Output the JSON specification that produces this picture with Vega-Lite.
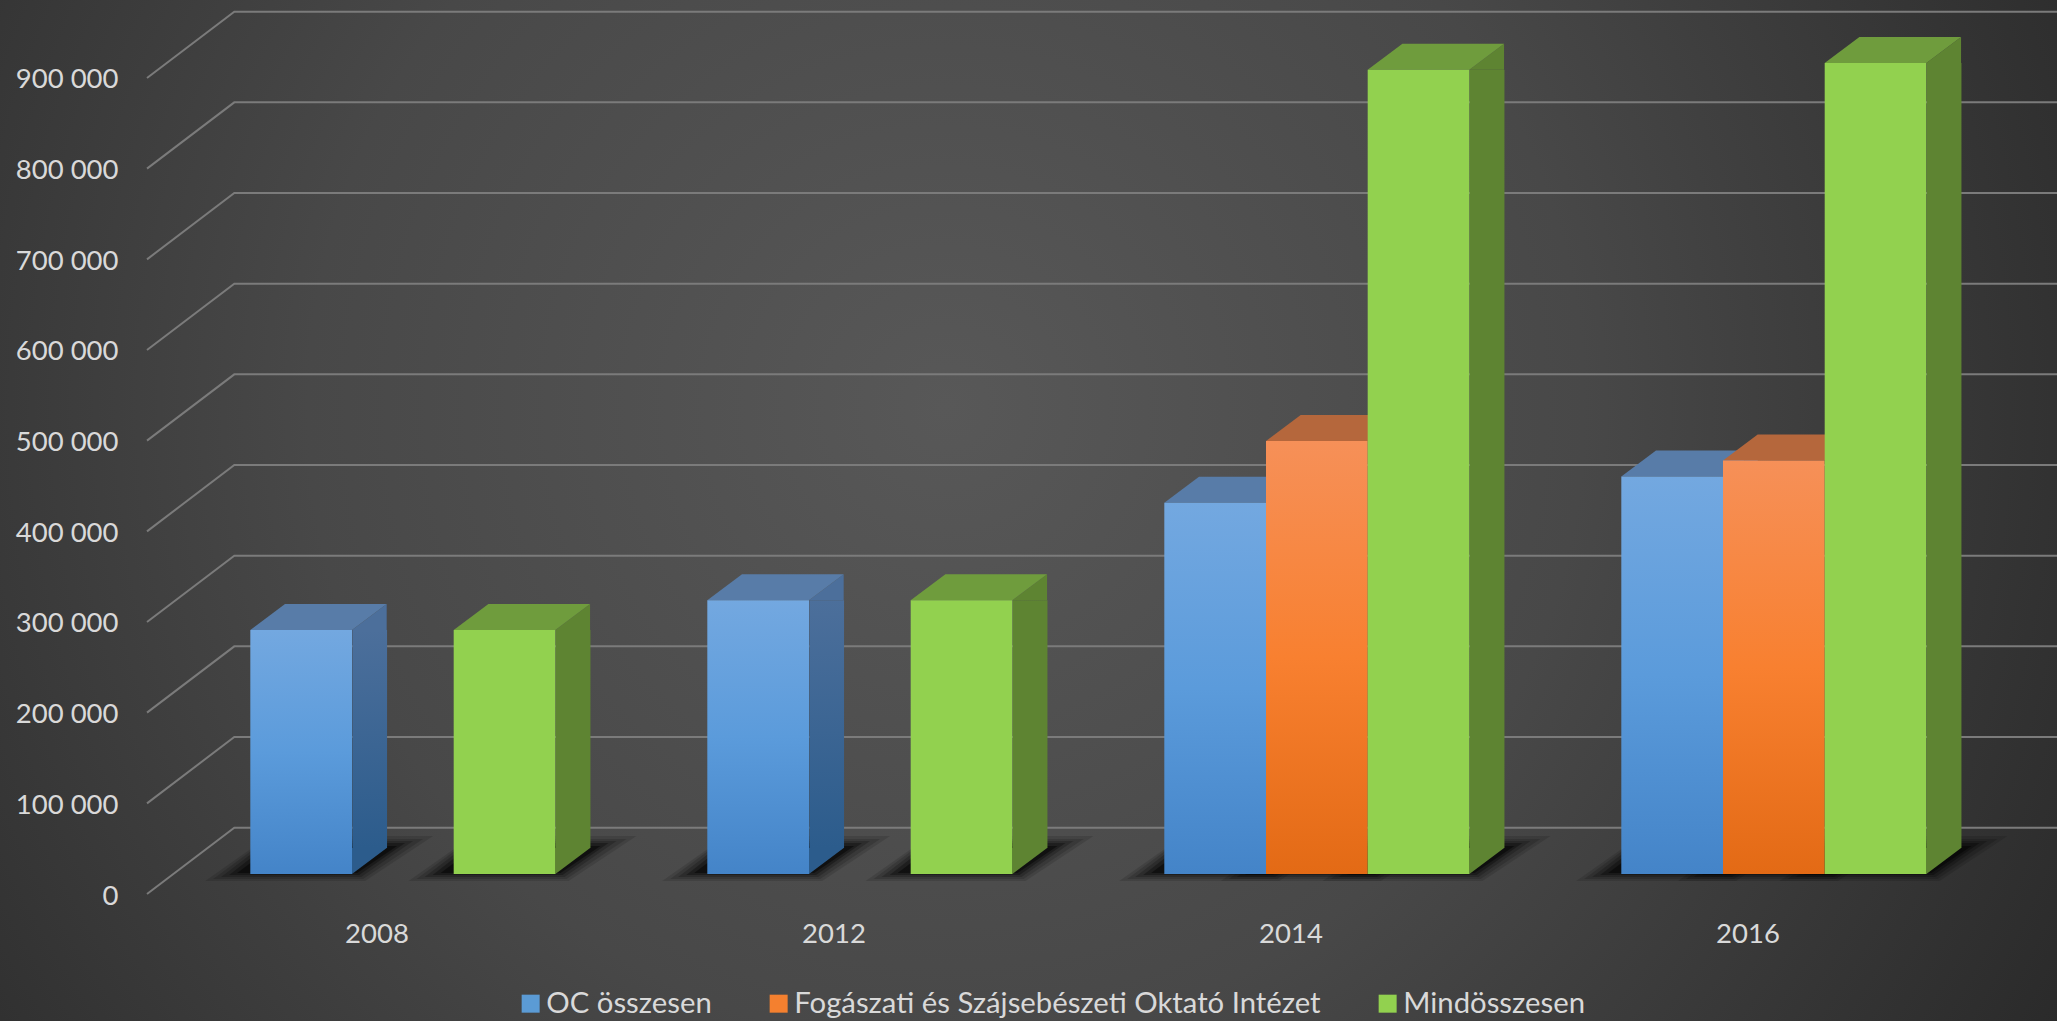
{
"$schema":"https://vega.github.io/schema/vega-lite/v6.json",
"width":1828,"height":894,
"autosize":{"type":"none"},
"padding":{"left":147,"top":0,"right":82,"bottom":127},
"background":"#333333",
"config":{"view":{"stroke":null},"font":"Lato","axis":{"title":null}},
"data":{"values":[
{"year":"2008","series":"OC összesen","value":269000},
{"year":"2008","series":"Mindösszesen","value":269000},
{"year":"2012","series":"OC összesen","value":302000},
{"year":"2012","series":"Mindösszesen","value":302000},
{"year":"2014","series":"OC összesen","value":409500},
{"year":"2014","series":"Fogászati és Szájsebészeti Oktató Intézet","value":477500},
{"year":"2014","series":"Mindösszesen","value":887000},
{"year":"2016","series":"OC összesen","value":438500},
{"year":"2016","series":"Fogászati és Szájsebészeti Oktató Intézet","value":456000},
{"year":"2016","series":"Mindösszesen","value":894500}
]},
"layer":[
{"mark":{"type":"point","filled":true,"size":1,"opacity":1},
 "encoding":{
  "x":{"field":"year","type":"nominal","title":null,"scale":{"type":"band","domain":["2008","2012","2014","2016"],"paddingInner":0,"paddingOuter":0},
   "axis":{"zindex":1,"domain":false,"ticks":false,"labelAngle":0,"labelFontSize":27.5,"labelColor":"#d9d9d9","labelPadding":26,"labelOffset":1.5,"labelFont":"Lato","title":null}},
  "xOffset":{"field":"series","type":"nominal","scale":{"type":"band","domain":["OC összesen","Fogászati és Szájsebészeti Oktató Intézet","Mindösszesen"],"paddingInner":0,"paddingOuter":0.747,"align":0.68}},
  "y":{"field":"value","type":"quantitative","title":null,"stack":null,"scale":{"domain":[0,986029],"nice":false,"zero":false},
   "axis":{"zindex":1,"domain":false,"ticks":false,"grid":false,"values":[0,100000,200000,300000,400000,500000,600000,700000,800000,900000],"labelExpr":"replace(format(datum.value,','),',',' ')","labelFontSize":27.5,"labelColor":"#d9d9d9","labelPadding":29,"labelOffset":2,"labelFont":"Lato","title":null}},
  "color":{"field":"series","type":"nominal","title":null,
   "scale":{"domain":["OC összesen","Fogászati és Szájsebészeti Oktató Intézet","Mindösszesen"],"range":["#5b9bd5","#f4802f","#92d14f"]},
   "legend":{"orient":"none","legendX":369,"legendY":989,"direction":"horizontal","columns":3,"symbolType":"square","symbolSize":324,"symbolStrokeWidth":0,"symbolOpacity":1,"labelFontSize":29.3,"labelColor":"#d9d9d9","labelFont":"Lato","columnPadding":52,"labelOffset":1,"labelLimit":800}}
 }},
{"data":{"values":[{"k":1}]},
 "mark":{"type":"point","filled":true,"size":4,"opacity":1,"shape":"M-147 -894 L1910 -894 L1910 127 L-147 127 Z",
  "fill":{"gradient":"radial","x1":0.46,"y1":0.45,"r1":0,"x2":0.46,"y2":0.45,"r2":0.62,"stops":[{"offset":0,"color":"#585858"},{"offset":0.5,"color":"#484848"},{"offset":1,"color":"#2a2a2a"}]}},
 "encoding":{"x":{"datum":"2008","type":"nominal","bandPosition":0,"title":null},"y":{"datum":0,"type":"quantitative","title":null}}},
{"data":{"values":[{"tick":0},{"tick":100000},{"tick":200000},{"tick":300000},{"tick":400000},{"tick":500000},{"tick":600000},{"tick":700000},{"tick":800000},{"tick":900000}]},
 "mark":{"type":"point","filled":false,"size":4,"opacity":1,"strokeWidth":2,"stroke":"#7b7b7b","shape":"M0 0 L87.3 -66.3 L1911 -66.3"},
 "encoding":{"x":{"datum":"2008","type":"nominal","bandPosition":0,"title":null},"y":{"field":"tick","type":"quantitative","title":null}}},
{"mark":{"type":"point","filled":true,"size":4,"opacity":0.12,"fill":"#000000","shape":"M-96 -13 L64 -13 L132 -58 L-32 -58 Z"},
 "encoding":{"x":{"field":"year","type":"nominal","title":null},"xOffset":{"field":"series","type":"nominal"},"y":{"datum":0,"type":"quantitative","title":null}}},
{"mark":{"type":"point","filled":true,"size":4,"opacity":0.15,"fill":"#000000","shape":"M-88 -15 L62 -15 L122 -55 L-34 -55 Z"},
 "encoding":{"x":{"field":"year","type":"nominal","title":null},"xOffset":{"field":"series","type":"nominal"},"y":{"datum":0,"type":"quantitative","title":null}}},
{"mark":{"type":"point","filled":true,"size":4,"opacity":0.2,"fill":"#000000","shape":"M-80 -17 L60 -17 L112 -53 L-33 -53 Z"},
 "encoding":{"x":{"field":"year","type":"nominal","title":null},"xOffset":{"field":"series","type":"nominal"},"y":{"datum":0,"type":"quantitative","title":null}}},
{"mark":{"type":"point","filled":true,"size":4,"opacity":0.3,"fill":"#000000","shape":"M-72 -19 L58 -19 L104 -51 L-31 -51 Z"},
 "encoding":{"x":{"field":"year","type":"nominal","title":null},"xOffset":{"field":"series","type":"nominal"},"y":{"datum":0,"type":"quantitative","title":null}}},
{"mark":{"type":"point","filled":true,"size":4,"opacity":0.45,"fill":"#000000","shape":"M-64 -21 L56 -21 L96 -48 L-28 -48 Z"},
 "encoding":{"x":{"field":"year","type":"nominal","title":null},"xOffset":{"field":"series","type":"nominal"},"y":{"datum":0,"type":"quantitative","title":null}}},
{"transform":[{"filter":"datum.series === 'OC összesen'"}],
 "encoding":{"x":{"field":"year","type":"nominal","title":null},"y":{"field":"value","type":"quantitative","stack":null,"title":null}},
 "layer":[
  {"mark":{"type":"bar","width":34.7,"xOffset":-5.8,"yOffset":-20,"y2Offset":-46,"fill":{"gradient":"linear","x1":0,"y1":0,"x2":0,"y2":1,"stops":[{"offset":0,"color":"#4c6f9b"},{"offset":1,"color":"#2c5c8c"}]}},
   "encoding":{"y2":{"datum":0}}},
  {"mark":{"type":"point","filled":true,"size":4,"opacity":1,"fill":"#4c6f9b","shape":"M50.85 -20 L85.55 -46 L85.55 -20 Z"},"encoding":{"xOffset":{"field":"series","type":"nominal"}}},
  {"mark":{"type":"point","filled":true,"size":4,"opacity":1,"fill":"#2c5c8c","shape":"M50.85 -20 L85.55 -46 L50.85 -46 Z"},"encoding":{"xOffset":{"field":"series","type":"nominal"},"y":{"datum":0,"type":"quantitative","title":null}}},
  {"mark":{"type":"point","filled":true,"size":4,"opacity":1,"fill":"#587ca8","shape":"M-50.85 -20 L50.85 -20 L85.55 -46 L-16.15 -46 Z"},"encoding":{"xOffset":{"field":"series","type":"nominal"}}},
  {"mark":{"type":"bar","yOffset":-20,"y2Offset":-20,"fill":{"gradient":"linear","x1":0,"y1":0,"x2":0,"y2":1,"stops":[{"offset":0,"color":"#73a8e0"},{"offset":0.5,"color":"#5b9bdb"},{"offset":1,"color":"#4484c8"}]}},
   "encoding":{"xOffset":{"field":"series","type":"nominal"},"y2":{"datum":0}}}
 ]},
{"transform":[{"filter":"datum.series === 'Fogászati és Szájsebészeti Oktató Intézet'"}],
 "encoding":{"x":{"field":"year","type":"nominal","title":null},"xOffset":{"field":"series","type":"nominal"},"y":{"field":"value","type":"quantitative","stack":null,"title":null}},
 "layer":[
  {"mark":{"type":"point","filled":true,"size":4,"opacity":1,"fill":"#b5673c","shape":"M-50.85 -20 L50.85 -20 L85.55 -46 L-16.15 -46 Z"}},
  {"mark":{"type":"bar","yOffset":-20,"y2Offset":-20,"fill":{"gradient":"linear","x1":0,"y1":0,"x2":0,"y2":1,"stops":[{"offset":0,"color":"#f69058"},{"offset":0.5,"color":"#f88030"},{"offset":1,"color":"#e36a15"}]}},
   "encoding":{"y2":{"datum":0}}}
 ]},
{"transform":[{"filter":"datum.series === 'Mindösszesen'"}],
 "encoding":{"x":{"field":"year","type":"nominal","title":null},"y":{"field":"value","type":"quantitative","stack":null,"title":null}},
 "layer":[
  {"mark":{"type":"bar","width":34.7,"xOffset":197.6,"yOffset":-20,"y2Offset":-46,"fill":"#5e8432"},
   "encoding":{"y2":{"datum":0}}},
  {"mark":{"type":"point","filled":true,"size":4,"opacity":1,"fill":"#5e8432","shape":"M50.85 -20 L85.55 -46 L85.55 -20 Z"},"encoding":{"xOffset":{"field":"series","type":"nominal"}}},
  {"mark":{"type":"point","filled":true,"size":4,"opacity":1,"fill":"#5e8432","shape":"M50.85 -20 L85.55 -46 L50.85 -46 Z"},"encoding":{"xOffset":{"field":"series","type":"nominal"},"y":{"datum":0,"type":"quantitative","title":null}}},
  {"mark":{"type":"point","filled":true,"size":4,"opacity":1,"fill":"#6f9c3d","shape":"M-50.85 -20 L50.85 -20 L85.55 -46 L-16.15 -46 Z"},"encoding":{"xOffset":{"field":"series","type":"nominal"}}},
  {"mark":{"type":"bar","yOffset":-20,"y2Offset":-20,"fill":"#92d14f"},
   "encoding":{"xOffset":{"field":"series","type":"nominal"},"y2":{"datum":0}}}
 ]}
]
}
